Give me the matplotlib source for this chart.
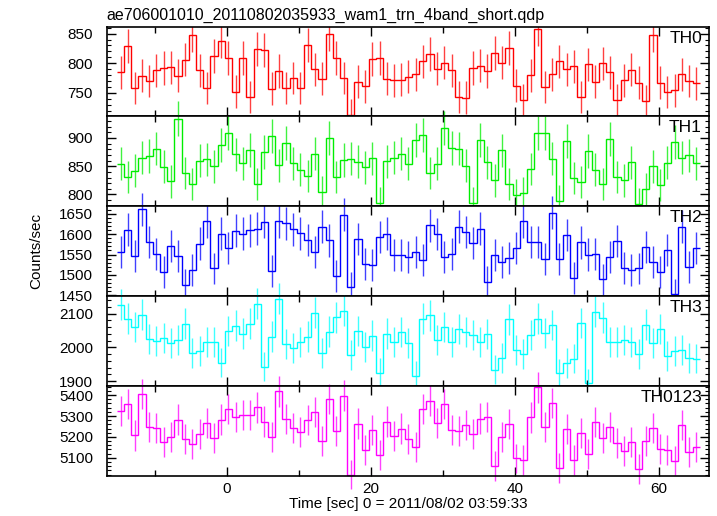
import numpy as np
import matplotlib
matplotlib.use('Agg')
import matplotlib.pyplot as plt
from matplotlib.ticker import MultipleLocator
from matplotlib.patches import Rectangle

plt.rcParams['font.family'] = ['Liberation Sans', 'DejaVu Sans']

# 1 s bins, centres
t = np.arange(81) - 14.8

th0 = [785, 829, 758, 779, 770, 788, 792, 793, 779, 806, 848, 788, 758, 812, 838, 809,
       752, 809, 743, 824, 823, 757, 787, 758, 775, 758, 831, 790, 774, 849, 809, 775,
       712, 769, 761, 807, 809, 774, 771, 772, 777, 781, 803, 816, 791, 801, 788, 743,
       742, 792, 796, 787, 817, 801, 826, 762, 738, 780, 858, 760, 781, 803, 790, 795,
       743, 798, 769, 800, 785, 738, 771, 789, 767, 736, 848, 767, 751, 754, 781, 770, 766]
th1 = [854, 831, 842, 865, 868, 881, 849, 823, 934, 838, 818, 860, 862, 850, 888, 909,
       871, 855, 879, 819, 875, 904, 852, 891, 855, 844, 833, 872, 804, 900, 831, 861,
       863, 858, 848, 864, 785, 859, 865, 872, 854, 897, 905, 838, 854, 918, 882, 881,
       851, 785, 897, 857, 825, 878, 819, 799, 803, 845, 909, 909, 863, 788, 894, 829,
       822, 877, 844, 818, 898, 831, 825, 857, 783, 810, 850, 817, 856, 893, 865, 869, 855]
th2 = [1557, 1611, 1547, 1661, 1581, 1552, 1508, 1571, 1547, 1476, 1513, 1577, 1631, 1516,
       1601, 1566, 1608, 1601, 1609, 1613, 1630, 1509, 1631, 1627, 1612, 1602, 1586, 1556,
       1618, 1585, 1498, 1648, 1470, 1588, 1526, 1525, 1593, 1601, 1548, 1548, 1544, 1557,
       1537, 1622, 1600, 1544, 1552, 1618, 1605, 1578, 1613, 1484, 1548, 1531, 1542, 1566,
       1631, 1581, 1581, 1538, 1652, 1538, 1598, 1493, 1580, 1550, 1552, 1489, 1544, 1583,
       1518, 1513, 1516, 1569, 1531, 1508, 1561, 1453, 1618, 1520, 1566]
th3 = [2127, 2085, 2060, 2097, 2026, 2020, 2028, 2013, 2023, 2071, 1984, 1990, 2017, 2017,
       1955, 2049, 2065, 2041, 2071, 2130, 1943, 2032, 2145, 2009, 1998, 2017, 2032, 2103,
       1982, 2047, 2089, 2109, 1978, 2048, 2002, 2035, 1925, 2041, 2017, 2046, 2014, 1915,
       2085, 2095, 2022, 2061, 2017, 2055, 2046, 2037, 2017, 2039, 1934, 1969, 2083, 1992,
       1981, 2036, 2085, 2042, 2066, 1923, 1953, 1967, 2073, 1893, 2106, 2088, 2017, 2017,
       2022, 2016, 1981, 2068, 2014, 2055, 1974, 1988, 1993, 1969, 1967]
th0123 = [5323, 5358, 5207, 5405, 5246, 5241, 5177, 5201, 5283, 5191, 5166, 5215, 5268,
          5195, 5283, 5334, 5296, 5305, 5305, 5342, 5273, 5199, 5418, 5286, 5241, 5223,
          5280, 5320, 5182, 5381, 5228, 5397, 5020, 5264, 5137, 5233, 5113, 5273, 5203,
          5240, 5190, 5151, 5333, 5373, 5267, 5357, 5232, 5228, 5257, 5214, 5288, 5296,
          5061, 5199, 5262, 5097, 5089, 5293, 5437, 5248, 5362, 5052, 5238, 5089, 5219,
          5119, 5270, 5195, 5246, 5171, 5134, 5177, 5045, 5182, 5243, 5142, 5138, 5087,
          5257, 5129, 5154]

names = ['TH0', 'TH1', 'TH2', 'TH3', 'TH0123']
series = [th0, th1, th2, th3, th0123]
colors = ['#ff0000', '#00ee00', '#0000ff', '#00ffff', '#ff00ff']
ylims = [(710, 862), (779, 938), (1448, 1668), (1885, 2152), (5013, 5443)]
majors = [50, 50, 50, 100, 100]
minors = [10, 10, 10, 20, 20]

fig = plt.figure(figsize=(7.17, 5.16), dpi=100)
left, width = 0.149, 0.840
h = 0.1742
bottom0 = 0.0775

edges = np.append(t - 0.5, t[-1] + 0.5)
for i in range(5):
    ax = fig.add_axes([left, bottom0 + (4 - i) * h, width, h])
    y = np.array(series[i], dtype=float)
    err = np.sqrt(y)  # 1 s bins -> poisson error on rate
    st = ax.stairs(y, edges, baseline=None, color=colors[i], lw=1, clip_on=False)
    eb = ax.errorbar(t, y, yerr=err, fmt='none', ecolor=colors[i], elinewidth=1,
                     capsize=0, alpha=0.75)
    arts = [st] + list(eb.lines[2])
    if i == 0:
        # clip only at the top of the first panel (title above)
        for a in arts:
            a.set_clip_on(True)
            a.set_clip_path(Rectangle((0, -1), 1, 2, transform=ax.transAxes))
    else:
        for a in arts:
            a.set_clip_on(False)
    ax.set_xlim(-16.7, 67.0)
    ax.set_ylim(*ylims[i])
    ax.xaxis.set_major_locator(MultipleLocator(20))
    ax.xaxis.set_minor_locator(MultipleLocator(10))
    ax.yaxis.set_major_locator(MultipleLocator(majors[i]))
    ax.yaxis.set_minor_locator(MultipleLocator(minors[i]))
    ax.tick_params(which='both', direction='in', top=True, right=True, labelsize=11)
    ax.tick_params(which='major', length=6.5, width=1)
    ax.tick_params(axis='y', which='major', pad=10)
    ax.tick_params(axis='x', which='major', pad=4)
    ax.tick_params(axis='y', which='minor', length=3, width=0.8)
    ax.tick_params(axis='x', which='minor', length=4, width=1)
    for s in ax.spines.values():
        s.set_linewidth(1.2)
    ax.text(0.988, 0.822, names[i], transform=ax.transAxes, ha='right', va='baseline',
            fontsize=12.5)
    if i < 4:
        ax.tick_params(labelbottom=False)
    else:
        ax.set_xlabel('Time [sec] 0 = 2011/08/02 03:59:33', fontsize=11, labelpad=1)

fig.text(left, 0.961, 'ae706001010_20110802035933_wam1_trn_4band_short.qdp',
         ha='left', va='baseline', fontsize=11.5)
fig.text(0.05, 0.514, 'Counts/sec', rotation=90, ha='center', va='center', fontsize=11)

plt.savefig('out.png', dpi=100)
